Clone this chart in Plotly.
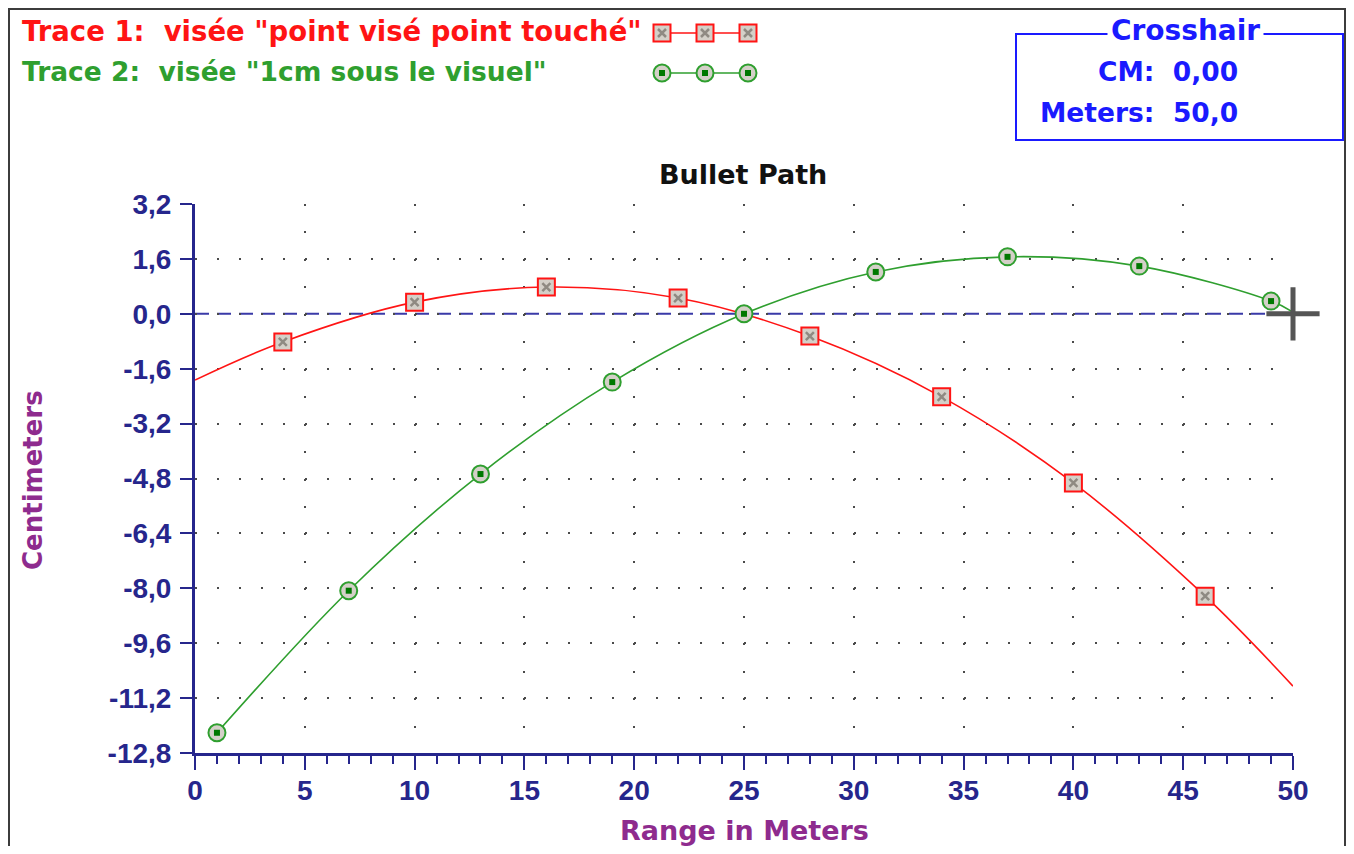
import plotly.graph_objects as go

# the page body adds an 8 px margin, so the figure is 16 px smaller than the window
W, H = 1338, 838
OFF = 8

# ---- data ----
# Trace 1 : visée "point visé point touché"  (line runs 0..50 m, markers every 6 m)
red_range = [0, 4, 10, 16, 22, 28, 34, 40, 46, 50]
red_cm = [-1.93, -0.82, 0.34, 0.78, 0.46, -0.65, -2.42, -4.93, -8.23, -10.85]

# Trace 2 : visée "1cm sous le visuel"  (markers every 6 m from 1 m, line ends at 50 m)
green_range = [1, 7, 13, 19, 25, 31, 37, 43, 49, 50]
green_cm = [-12.21, -8.07, -4.67, -1.99, 0.0, 1.22, 1.66, 1.39, 0.37, 0.05]

y_tickvals = [3.2, 1.6, 0.0, -1.6, -3.2, -4.8, -6.4, -8.0, -9.6, -11.2, -12.8]
y_ticktext = ["3,2", "1,6", "0,0", "-1,6", "-3,2", "-4,8", "-6,4",
              "-8,0", "-9,6", "-11,2", "-12,8"]
x_tickvals = [0, 5, 10, 15, 20, 25, 30, 35, 40, 45, 50]

crosshair_m = 50.0
crosshair_cm = 0.0

# ---- styles ----
NAVY = "#26268c"
PURPLE = "#8e2b8e"
RED = "#ff1414"
GREEN = "#2f9f2f"
DKGREEN = "#007800"
GRAYFILL = "#d4d0c8"
BLUE = "#1a1aff"
TXT = "DejaVu Sans"


def px_x(p):
    return (p - OFF) / W


def px_y(p):
    return 1 - (p - OFF) / H


fig = go.Figure()

# curves
fig.add_trace(go.Scatter(x=red_range, y=red_cm, mode="lines",
                         line=dict(color=RED, width=1.6, shape="spline"),
                         hoverinfo="skip"))
fig.add_trace(go.Scatter(x=green_range, y=green_cm, mode="lines",
                         line=dict(color=GREEN, width=1.6, shape="spline"),
                         hoverinfo="skip"))


def red_markers(xs, ys, xa="x", ya="y"):
    fig.add_trace(go.Scatter(x=xs, y=ys, mode="markers", xaxis=xa, yaxis=ya,
                             cliponaxis=False,
                             marker=dict(symbol="square", size=17, color=GRAYFILL,
                                         line=dict(color=RED, width=2))))
    fig.add_trace(go.Scatter(x=xs, y=ys, mode="markers", xaxis=xa, yaxis=ya,
                             cliponaxis=False,
                             marker=dict(symbol="x-thin-open", size=8, color="#8f8a82",
                                         line=dict(color="#8f8a82", width=2.5))))


def green_markers(xs, ys, xa="x", ya="y"):
    fig.add_trace(go.Scatter(x=xs, y=ys, mode="markers", xaxis=xa, yaxis=ya,
                             cliponaxis=False,
                             marker=dict(symbol="circle", size=17, color=GRAYFILL,
                                         line=dict(color=GREEN, width=2))))
    fig.add_trace(go.Scatter(x=xs, y=ys, mode="markers", xaxis=xa, yaxis=ya,
                             cliponaxis=False,
                             marker=dict(symbol="square", size=6, color=DKGREEN,
                                         line=dict(width=0))))


red_markers(red_range[1:-1], red_cm[1:-1])
green_markers(green_range[:-1], green_cm[:-1])

# crosshair cursor
fig.add_trace(go.Scatter(x=[crosshair_m], y=[crosshair_cm], mode="markers",
                         cliponaxis=False,
                         marker=dict(symbol="cross-thin-open", size=38, color="#555555",
                                     line=dict(color="#555555", width=5))))

# legend samples (line + three markers, to the right of the text)
for xa, ya, color, fn in (("x2", "y2", RED, red_markers),
                          ("x3", "y3", GREEN, green_markers)):
    fig.add_trace(go.Scatter(x=[0, 2], y=[0, 0], mode="lines", xaxis=xa, yaxis=ya,
                             cliponaxis=False, line=dict(color=color, width=1.6)))
    fn([0, 1, 2], [0, 0, 0], xa, ya)

tickfont = dict(family="Liberation Sans", size=28, color=NAVY, weight="bold")

fig.update_layout(
    width=W, height=H,
    margin=dict(l=0, r=0, t=0, b=0),
    paper_bgcolor="white", plot_bgcolor="white",
    showlegend=False,
    xaxis=dict(domain=[px_x(195), px_x(1293)], range=[0, 50],
               showline=True, linecolor=NAVY, linewidth=3,
               tickvals=x_tickvals, ticks="outside", ticklen=14, tickwidth=2,
               tickcolor=NAVY, tickfont=tickfont, ticklabelstandoff=-4,
               minor=dict(dtick=1, tick0=0, ticks="outside", ticklen=8,
                          tickwidth=2, tickcolor=NAVY, showgrid=False),
               showgrid=True, gridcolor="#4a4a4a", gridwidth=2,
               griddash="2px,25.45px", zeroline=False, automargin=False,
               fixedrange=True),
    yaxis=dict(domain=[px_y(753), px_y(204)], range=[-12.8, 3.2],
               showline=True, linecolor=NAVY, linewidth=3,
               tickvals=y_tickvals, ticktext=y_ticktext,
               ticks="outside", ticklen=12, tickwidth=2, tickcolor=NAVY,
               tickfont=tickfont, ticklabelstandoff=3,
               showgrid=True, gridcolor="#4a4a4a", gridwidth=2,
               griddash="2px,19.96px", zeroline=False, automargin=False,
               fixedrange=True),
    xaxis2=dict(domain=[px_x(662), px_x(748)], range=[0, 2], visible=False,
                anchor="y2", fixedrange=True),
    yaxis2=dict(domain=[px_y(43), px_y(23)], range=[-1, 1], visible=False,
                anchor="x2", fixedrange=True),
    xaxis3=dict(domain=[px_x(662), px_x(748)], range=[0, 2], visible=False,
                anchor="y3", fixedrange=True),
    yaxis3=dict(domain=[px_y(83), px_y(63)], range=[-1, 1], visible=False,
                anchor="x3", fixedrange=True),
)

shapes = [
    # dashed zero reference
    dict(type="line", xref="x", yref="y", x0=0, x1=50, y0=0, y1=0,
         line=dict(color="#3a3aa8", width=2, dash="14px,8px"), layer="below"),
    # crosshair box
    dict(type="rect", xref="paper", yref="paper",
         x0=px_x(1016), x1=px_x(1343), y0=px_y(140), y1=px_y(34),
         line=dict(color=BLUE, width=2)),
    # outer frame
    dict(type="rect", xref="paper", yref="paper",
         x0=px_x(9), x1=px_x(1345), y0=-0.1, y1=px_y(9),
         line=dict(color="#3c3c3c", width=2)),
]
fig.update_layout(shapes=shapes)

NB = "\u00a0"
cm_txt = f"{crosshair_cm:.2f}".replace(".", ",")
m_txt = f"{crosshair_m:.1f}".replace(".", ",")

ann = [
    dict(text="<b>Bullet Path</b>", x=px_x(743), y=px_y(175),
         font=dict(family=TXT, size=27, color="#111111")),
    dict(text="<b>Range in Meters</b>", x=px_x(744), y=px_y(830),
         font=dict(family=TXT, size=27, color=PURPLE)),
    dict(text="<b>Centimeters</b>", x=px_x(33), y=px_y(480), textangle=-90,
         font=dict(family=TXT, size=26, color=PURPLE)),
    dict(text=f'<b>Trace 1:{NB} visée "point visé point touché"</b>',
         x=px_x(20), y=px_y(31), xanchor="left",
         font=dict(family=TXT, size=27.5, color=RED)),
    dict(text=f'<b>Trace 2:{NB} visée "1cm sous le visuel"</b>',
         x=px_x(20), y=px_y(71), xanchor="left",
         font=dict(family=TXT, size=26.5, color=GREEN)),
    dict(text="<b>Crosshair</b>", x=px_x(1185), y=px_y(31),
         bgcolor="white", borderpad=3,
         font=dict(family=TXT, size=28, color=BLUE)),
    dict(text=f"<b>CM:{NB} {cm_txt}</b>", x=px_x(1240), y=px_y(71),
         xanchor="right", font=dict(family=TXT, size=26.5, color=BLUE)),
    dict(text=f"<b>Meters:{NB} {m_txt}</b>", x=px_x(1240), y=px_y(112),
         xanchor="right", font=dict(family=TXT, size=26.5, color=BLUE)),
]
for a in ann:
    a.setdefault("xref", "paper")
    a.setdefault("yref", "paper")
    a.setdefault("showarrow", False)
    a.setdefault("xanchor", "center")
    a.setdefault("yanchor", "middle")
fig.update_layout(annotations=ann)

fig.write_html("out.html")
